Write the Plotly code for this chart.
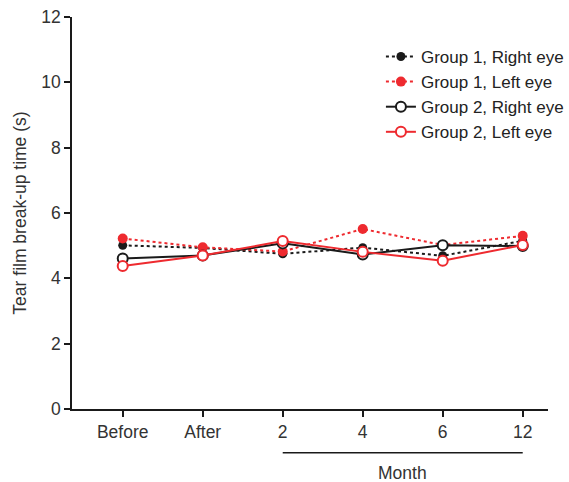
import plotly.graph_objects as go

categories = ["Before", "After", "2", "4", "6", "12"]
g1_right = [5.01, 4.93, 4.75, 4.94, 4.69, 5.15]
g1_left = [5.22, 4.95, 4.82, 5.51, 5.02, 5.30]
g2_right = [4.61, 4.70, 5.07, 4.73, 5.01, 4.99]
g2_left = [4.38, 4.70, 5.14, 4.81, 4.54, 5.02]

BLACK = "#1a1a1a"
RED = "#ee2a2f"
xs = list(range(len(categories)))

fig = go.Figure()
fig.add_trace(go.Scatter(x=xs, y=g1_right, name="Group 1, Right eye", mode="lines+markers",
                         line=dict(color=BLACK, width=2, dash="dot"),
                         marker=dict(color=BLACK, size=9, line=dict(width=0))))
fig.add_trace(go.Scatter(x=xs, y=g1_left, name="Group 1, Left eye", mode="lines+markers",
                         line=dict(color=RED, width=2, dash="dot"),
                         marker=dict(color=RED, size=10, line=dict(width=0))))
fig.add_trace(go.Scatter(x=xs, y=g2_right, name="Group 2, Right eye", mode="lines+markers",
                         line=dict(color=BLACK, width=2),
                         marker=dict(color="white", size=10, line=dict(color=BLACK, width=2))))
fig.add_trace(go.Scatter(x=xs, y=g2_left, name="Group 2, Left eye", mode="lines+markers",
                         line=dict(color=RED, width=2),
                         marker=dict(color="white", size=10, line=dict(color=RED, width=2))))

fig.add_shape(type="line", xref="x", yref="paper", x0=2, x1=5, y0=-0.1115, y1=-0.1115,
              line=dict(color=BLACK, width=1.5))
fig.add_annotation(text="Month", xref="x", yref="paper", x=3.5, y=-0.162, showarrow=False,
                   font=dict(size=17.5, color="#333333"), yanchor="middle")

fig.update_layout(
    width=569, height=482,
    margin=dict(l=72, r=21, t=17, b=73, autoexpand=False),
    paper_bgcolor="white", plot_bgcolor="white",
    font=dict(family="Liberation Sans, Arial, sans-serif", size=17.5, color="#333333"),
    showlegend=True,
    legend=dict(x=0.649, y=0.944, xanchor="left", yanchor="top", bgcolor="rgba(0,0,0,0)",
                font=dict(size=17, color="#222222"), tracegroupgap=0, itemwidth=30),
    xaxis=dict(range=[-0.634, 5.316], tickvals=xs, ticktext=categories, showgrid=False,
               zeroline=False, showline=True, linecolor=BLACK, linewidth=1.5,
               ticks="outside", ticklen=6, tickcolor=BLACK, tickwidth=1.5),
    yaxis=dict(range=[0, 12], tickvals=[0, 2, 4, 6, 8, 10, 12], showgrid=False, zeroline=False,
               showline=True, linecolor=BLACK, linewidth=1.5, ticks="outside", ticklen=6,
               tickcolor=BLACK, tickwidth=1.5,
               title=dict(text="Tear film break-up time (s)", font=dict(size=17.5), standoff=10)),
)

fig.write_html("out.html")
